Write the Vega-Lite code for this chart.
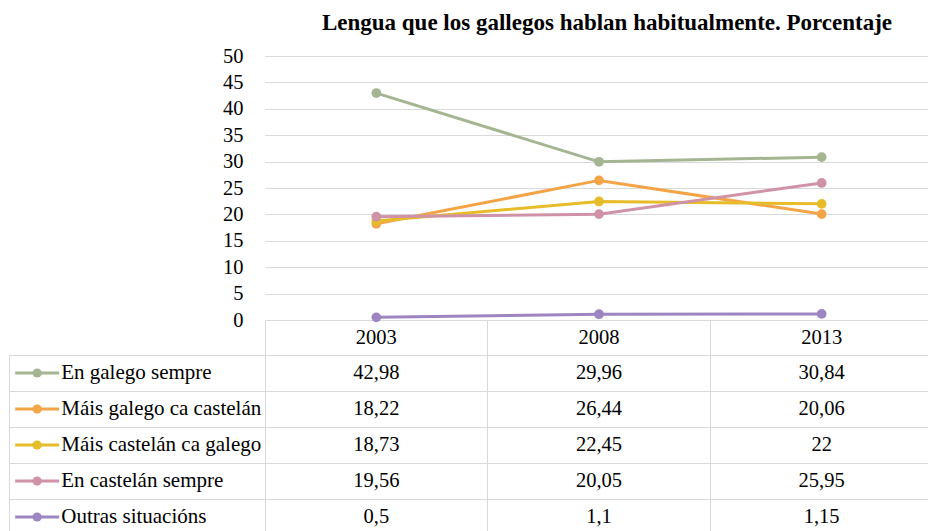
{
  "$schema": "https://vega.github.io/schema/vega-lite/v6.json",
  "padding": {"left": 9, "top": 12, "right": 0, "bottom": 0},
  "background": "white",
  "datasets": {
    "d": [
      {"serie": "En galego sempre", "year": "2003", "value": 42.98},
      {"serie": "En galego sempre", "year": "2008", "value": 29.96},
      {"serie": "En galego sempre", "year": "2013", "value": 30.84},
      {"serie": "Máis galego ca castelán", "year": "2003", "value": 18.22},
      {"serie": "Máis galego ca castelán", "year": "2008", "value": 26.44},
      {"serie": "Máis galego ca castelán", "year": "2013", "value": 20.06},
      {"serie": "Máis castelán ca galego", "year": "2003", "value": 18.73},
      {"serie": "Máis castelán ca galego", "year": "2008", "value": 22.45},
      {"serie": "Máis castelán ca galego", "year": "2013", "value": 22},
      {"serie": "En castelán sempre", "year": "2003", "value": 19.56},
      {"serie": "En castelán sempre", "year": "2008", "value": 20.05},
      {"serie": "En castelán sempre", "year": "2013", "value": 25.95},
      {"serie": "Outras situacións", "year": "2003", "value": 0.5},
      {"serie": "Outras situacións", "year": "2008", "value": 1.1},
      {"serie": "Outras situacións", "year": "2013", "value": 1.15}
    ]
  },
  "config": {
    "font": "Liberation Serif",
    "view": {"stroke": null},
    "axis": {
      "labelFont": "Liberation Serif",
      "labelFontSize": 20.5,
      "labelColor": "#000000",
      "gridColor": "#D9D9D9",
      "domainColor": "#D9D9D9",
      "tickColor": "#D9D9D9",
      "gridWidth": 1,
      "domainWidth": 1,
      "tickWidth": 1
    },
    "locale": {"number": {"decimal": ",", "thousands": ".", "grouping": [3], "currency": ["", " €"]}}
  },
  "columns": 2,
  "bounds": "flush",
  "spacing": {"row": 35, "column": 0},
  "concat": [
    {
      "width": 256,
      "height": 264,
      "data": {"values": []},
      "mark": "text"
    },
    {
      "width": 668,
      "height": 264,
      "data": {"name": "d"},
      "title": {
        "text": "Lengua que los gallegos hablan habitualmente. Porcentaje",
        "font": "Liberation Serif",
        "fontSize": 23,
        "fontWeight": "bold",
        "color": "#000000",
        "anchor": "middle",
        "dx": 8,
        "offset": 11
      },
      "encoding": {
        "x": {
          "field": "year",
          "type": "ordinal",
          "bandPosition": 0.5,
          "scale": {"type": "band", "paddingInner": 0, "paddingOuter": 0},
          "axis": {
            "title": null,
            "bandPosition": 0,
            "labelAngle": 0,
            "tickSize": 35,
            "labelPadding": -18,
            "labelBaseline": "middle",
            "domain": true,
            "grid": false
          }
        },
        "y": {
          "field": "value",
          "type": "quantitative",
          "scale": {"domain": [0, 50], "nice": false},
          "axis": {
            "title": null,
            "values": [0, 5, 10, 15, 20, 25, 30, 35, 40, 45, 50],
            "domain": false,
            "ticks": false,
            "labelPadding": 22,
            "grid": true
          }
        },
        "color": {
          "field": "serie",
          "type": "nominal",
          "scale": {
            "domain": ["En galego sempre", "Máis galego ca castelán", "Máis castelán ca galego", "En castelán sempre", "Outras situacións"],
            "range": ["#A5B592", "#F3A447", "#E7BC29", "#D092A7", "#9C85C0"]
          },
          "legend": null
        }
      },
      "layer": [
        {"mark": {"type": "line", "strokeWidth": 3}},
        {"mark": {"type": "point", "filled": true, "size": 95, "opacity": 1}}
      ]
    },
    {
      "width": 256,
      "height": 180,
      "data": {"name": "d"},
      "transform": [{"filter": "datum.year == '2003'"}],
      "encoding": {
        "y": {
          "field": "serie",
          "type": "nominal",
          "sort": ["En galego sempre", "Máis galego ca castelán", "Máis castelán ca galego", "En castelán sempre", "Outras situacións"],
          "scale": {"type": "band", "paddingInner": 0, "paddingOuter": 0},
          "axis": {"title": null, "labels": false, "ticks": false, "domain": true, "grid": true, "bandPosition": 0}
        },
        "color": {
          "field": "serie",
          "type": "nominal",
          "scale": {
            "domain": ["En galego sempre", "Máis galego ca castelán", "Máis castelán ca galego", "En castelán sempre", "Outras situacións"],
            "range": ["#A5B592", "#F3A447", "#E7BC29", "#D092A7", "#9C85C0"]
          },
          "legend": null
        }
      },
      "layer": [
        {
          "mark": {"type": "point", "shape": "stroke", "size": 1936, "strokeWidth": 3, "filled": false, "opacity": 1},
          "encoding": {"x": {"datum": 0.11, "type": "quantitative", "scale": {"domain": [0, 1]}, "axis": null}}
        },
        {
          "mark": {"type": "point", "shape": "circle", "size": 85, "filled": true, "opacity": 1},
          "encoding": {"x": {"datum": 0.11, "type": "quantitative", "scale": {"domain": [0, 1]}, "axis": null}}
        },
        {
          "mark": {"type": "text", "align": "left", "baseline": "middle", "fontSize": 21, "font": "Liberation Serif"},
          "encoding": {
            "x": {"datum": 0.204, "type": "quantitative", "scale": {"domain": [0, 1]}, "axis": null},
            "text": {"field": "serie"},
            "color": {"value": "#000000"}
          }
        }
      ]
    },
    {
      "width": 668,
      "height": 180,
      "data": {"name": "d"},
      "mark": {"type": "text", "fontSize": 20.5, "font": "Liberation Serif", "color": "#000000", "baseline": "middle"},
      "encoding": {
        "x": {
          "field": "year",
          "type": "ordinal",
          "scale": {"type": "band", "paddingInner": 0, "paddingOuter": 0},
          "axis": {"title": null, "labels": false, "ticks": false, "domain": false, "grid": true, "bandPosition": 0}
        },
        "y": {
          "field": "serie",
          "type": "nominal",
          "sort": ["En galego sempre", "Máis galego ca castelán", "Máis castelán ca galego", "En castelán sempre", "Outras situacións"],
          "scale": {"type": "band", "paddingInner": 0, "paddingOuter": 0},
          "axis": {"title": null, "labels": false, "ticks": false, "domain": false, "grid": true, "bandPosition": 0}
        },
        "text": {"field": "value", "type": "quantitative", "format": "~g"}
      }
    }
  ]
}
